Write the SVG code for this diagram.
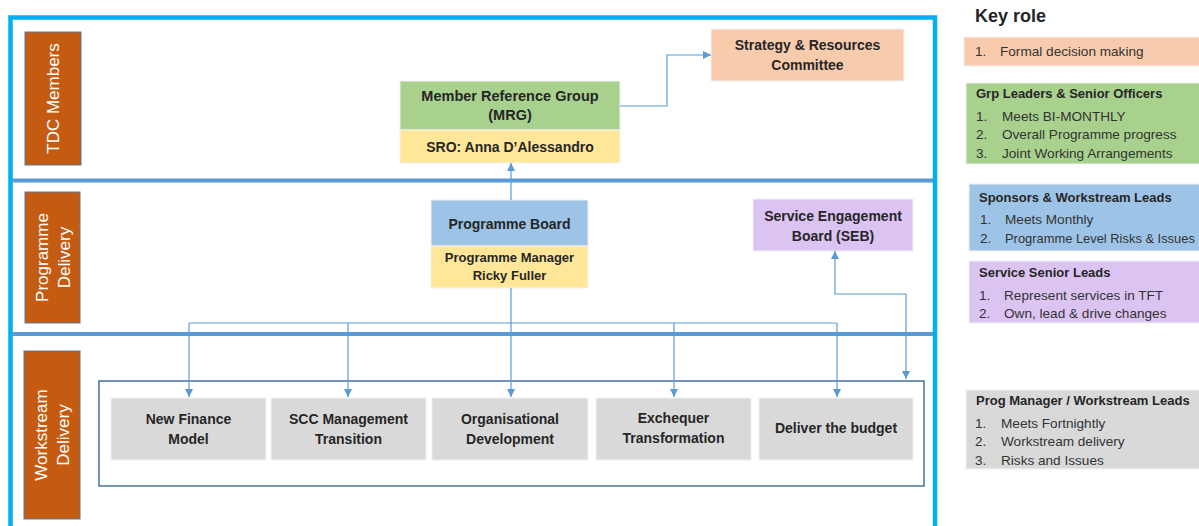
<svg xmlns="http://www.w3.org/2000/svg" width="1199" height="526" viewBox="0 0 1199 526">
  <style>
    .frame { fill: none; stroke: #00B0F0; stroke-width: 4.5; }
    .band { stroke: #5B9BD5; stroke-width: 4; }
    .lane { fill: #C55A11; stroke: #5A7BA0; stroke-width: 1; }
    .lane-t { font-family: "Liberation Sans", Arial, sans-serif; font-size: 17px; fill: #FFFFFF; text-anchor: middle; }
    .box { stroke: #F2F2F2; stroke-width: 1; }
    .nt { font-family: "Liberation Sans", Arial, sans-serif; font-weight: bold; font-size: 14px; fill: #262626; text-anchor: middle; }
    .ns { font-size: 13px; }
    .wire { fill: none; stroke: #5B9BD5; stroke-width: 1.2; }
    .hold { fill: none; stroke: #4472A0; stroke-width: 1.5; }
    .kt { font-family: "Liberation Sans", Arial, sans-serif; font-size: 13.6px; fill: #333333; }
    .kb { font-weight: bold; font-size: 13px; fill: #262626; }
    .peach { fill: #F8CBAD; }
    .green { fill: #A9D18E; }
    .blue { fill: #9DC3E6; }
    .lilac { fill: #DBC3F2; }
    .grey { fill: #D9D9D9; }
    .yellow { fill: #FFE699; }
  </style>
  <defs>
    <marker id="tip" viewBox="0 0 10 10" refX="10" refY="5" markerWidth="8" markerHeight="8" markerUnits="userSpaceOnUse" orient="auto-start-reverse">
      <path d="M0,0 L10,5 L0,10 Z" fill="#5B9BD5"/>
    </marker>
  </defs>

  <rect width="1199" height="526" fill="#FFFFFF"/>

  <!-- outer frame and band dividers -->
  <rect class="frame" x="10.5" y="17.5" width="924.5" height="530"/>
  <line class="band" x1="12" y1="180.5" x2="933" y2="180.5"/>
  <line class="band" x1="12" y1="334" x2="933" y2="334"/>

  <!-- swimlane labels -->
  <g id="lane-tdc">
    <rect class="lane" x="25" y="32" width="56" height="133"/>
    <text class="lane-t" transform="translate(53,98.5) rotate(-90)" y="6">TDC Members</text>
  </g>
  <g id="lane-programme">
    <rect class="lane" x="25" y="192" width="55" height="131"/>
    <text class="lane-t" transform="translate(52.5,257.5) rotate(-90)"><tspan x="0" y="-5">Programme</tspan><tspan x="0" y="17">Delivery</tspan></text>
  </g>
  <g id="lane-workstream">
    <rect class="lane" x="24" y="351" width="56" height="168"/>
    <text class="lane-t" transform="translate(52,435) rotate(-90)"><tspan x="0" y="-5">Workstream</tspan><tspan x="0" y="17">Delivery</tspan></text>
  </g>

  <!-- governance nodes -->
  <g id="strategy-committee">
    <rect class="box peach" x="711" y="29" width="193" height="52"/>
    <text class="nt"><tspan x="807.5" y="50">Strategy &amp; Resources</tspan><tspan x="807.5" y="70">Committee</tspan></text>
  </g>
  <g id="mrg">
    <rect class="box green" x="400" y="81" width="220" height="49"/>
    <rect class="box yellow" x="400" y="130" width="220" height="33"/>
    <text class="nt" style="font-size:14.5px"><tspan x="510" y="101">Member Reference Group</tspan><tspan x="510" y="120">(MRG)</tspan></text>
    <text class="nt" x="510" y="152">SRO: Anna  D’Alessandro</text>
  </g>
  <g id="programme-board">
    <rect class="box blue" x="431" y="200" width="157" height="46"/>
    <rect class="box yellow" x="431" y="246" width="157" height="42"/>
    <text class="nt" x="509.5" y="229">Programme Board</text>
    <text class="nt ns"><tspan x="509.5" y="262">Programme Manager</tspan><tspan x="509.5" y="280">Ricky Fuller</tspan></text>
  </g>
  <g id="seb">
    <rect class="box lilac" x="753" y="199" width="160" height="52"/>
    <text class="nt"><tspan x="833" y="221">Service Engagement</tspan><tspan x="833" y="241">Board (SEB)</tspan></text>
  </g>

  <!-- workstreams -->
  <g id="workstream-frame">
    <rect class="hold" x="99" y="381" width="825" height="105"/>
  </g>
  <g id="ws-finance">
    <rect class="box grey" x="111" y="398" width="155" height="62"/>
    <text class="nt"><tspan x="188.5" y="424">New Finance</tspan><tspan x="188.5" y="444">Model</tspan></text>
  </g>
  <g id="ws-scc">
    <rect class="box grey" x="271" y="398" width="155" height="62"/>
    <text class="nt"><tspan x="348.5" y="424">SCC Management</tspan><tspan x="348.5" y="444">Transition</tspan></text>
  </g>
  <g id="ws-orgdev">
    <rect class="box grey" x="432" y="398" width="156" height="62"/>
    <text class="nt"><tspan x="510" y="424">Organisational</tspan><tspan x="510" y="444">Development</tspan></text>
  </g>
  <g id="ws-exchequer">
    <rect class="box grey" x="596" y="398" width="155" height="62"/>
    <text class="nt"><tspan x="673.5" y="423">Exchequer</tspan><tspan x="673.5" y="443">Transformation</tspan></text>
  </g>
  <g id="ws-budget">
    <rect class="box grey" x="759" y="398" width="154" height="62"/>
    <text class="nt" x="836" y="433">Deliver the budget</text>
  </g>

  <!-- connectors -->
  <g id="connectors">
    <path class="wire" d="M620,106 H667 V55 H711" marker-end="url(#tip)"/>
    <path class="wire" d="M511,200 V163" marker-end="url(#tip)"/>
    <path class="wire" d="M511,288 V323"/>
    <path class="wire" d="M189,323 H837"/>
    <path class="wire" d="M189,323 V397" marker-end="url(#tip)"/>
    <path class="wire" d="M348,323 V397" marker-end="url(#tip)"/>
    <path class="wire" d="M511,323 V397" marker-end="url(#tip)"/>
    <path class="wire" d="M674,323 V397" marker-end="url(#tip)"/>
    <path class="wire" d="M837,323 V397" marker-end="url(#tip)"/>
    <path class="wire" d="M835,251 V294 H906 V379" marker-start="url(#tip)" marker-end="url(#tip)"/>
  </g>

  <!-- key role legend -->
  <g id="key-role">
    <text class="kt kb" x="975" y="22" style="font-size:18px">Key role</text>
  </g>
  <g id="key-decision">
    <rect class="box peach" x="964" y="37" width="240" height="29"/>
    <text class="kt"><tspan x="975" y="56">1.</tspan><tspan x="1000" y="56">Formal decision making</tspan></text>
  </g>
  <g id="key-leaders">
    <rect class="box green" x="966" y="83" width="238" height="81"/>
    <text class="kt kb" x="976" y="98">Grp Leaders &amp; Senior Officers</text>
    <text class="kt"><tspan x="976" y="121">1.</tspan><tspan x="1002" y="121">Meets BI-MONTHLY</tspan><tspan x="976" y="139">2.</tspan><tspan x="1002" y="139">Overall  Programme progress</tspan><tspan x="976" y="158">3.</tspan><tspan x="1002" y="158">Joint Working Arrangements</tspan></text>
  </g>
  <g id="key-sponsors">
    <rect class="box blue" x="969" y="184" width="235" height="67"/>
    <text class="kt kb" x="979" y="202">Sponsors &amp; Workstream Leads</text>
    <text class="kt"><tspan x="980" y="224">1.</tspan><tspan x="1005" y="224">Meets Monthly</tspan><tspan x="980" y="243">2.</tspan><tspan x="1005" y="243" style="font-size:12.9px">Programme Level Risks &amp; Issues</tspan></text>
  </g>
  <g id="key-service">
    <rect class="box lilac" x="969" y="261" width="235" height="62"/>
    <text class="kt kb" x="979" y="277">Service Senior Leads</text>
    <text class="kt"><tspan x="979" y="300">1.</tspan><tspan x="1004" y="300">Represent services in TFT</tspan><tspan x="979" y="318">2.</tspan><tspan x="1004" y="318">Own, lead &amp; drive changes</tspan></text>
  </g>
  <g id="key-workstream">
    <rect class="box grey" x="966" y="390" width="238" height="79"/>
    <text class="kt kb" x="976" y="405">Prog Manager / Workstream Leads</text>
    <text class="kt"><tspan x="975" y="428">1.</tspan><tspan x="1001" y="428">Meets Fortnightly</tspan><tspan x="975" y="446">2.</tspan><tspan x="1001" y="446">Workstream delivery</tspan><tspan x="975" y="465">3.</tspan><tspan x="1001" y="465">Risks and Issues</tspan></text>
  </g>
</svg>
